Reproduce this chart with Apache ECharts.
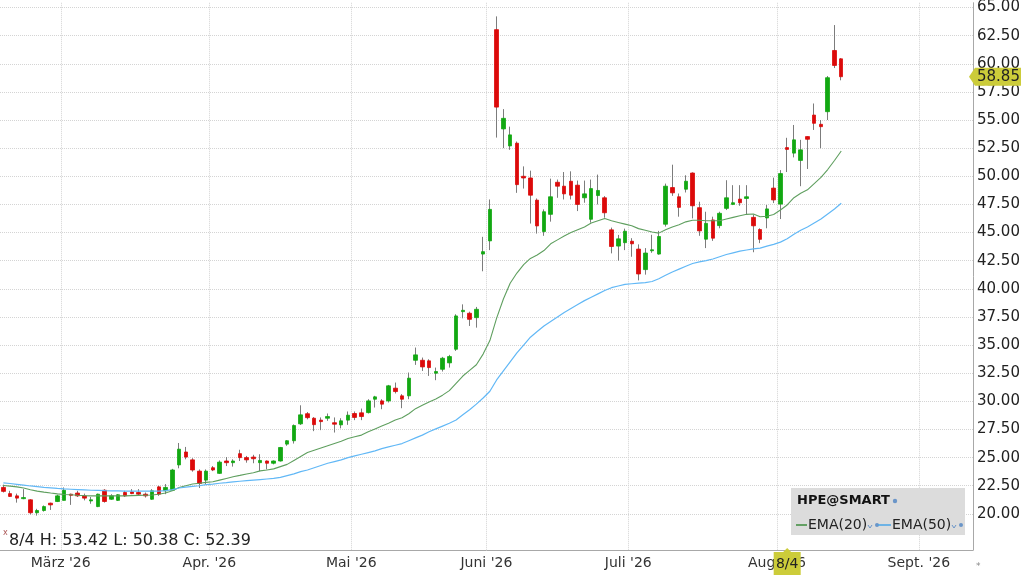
<!DOCTYPE html>
<html>
<head>
<meta charset="utf-8">
<title>HPE@SMART</title>
<script src="https://cdn.jsdelivr.net/npm/echarts@6/dist/echarts.min.js"></script>
<style>
  html, body { margin: 0; padding: 0; background: #fff; }
  #chart { width: 1024px; height: 575px; }
</style>
</head>
<body>
<div id="chart"></div>
<script>
/*========== 交易日 (Kategorien) ==========*/
const holidays = ['2026-02-16', '2026-04-03', '2026-05-25', '2026-06-19', '2026-07-03', '2026-09-07']
const monthNames = ['Jan.', 'Feb.', 'März', 'Apr.', 'Mai', 'Juni', 'Juli', 'Aug.', 'Sept.', 'Okt.', 'Nov.', 'Dez.']

function tradingDays(from, to) {
  const out = []
  let t = Date.parse(from + 'T00:00:00Z')
  const end = Date.parse(to + 'T00:00:00Z')
  while (t <= end) {
    const d = new Date(t)
    const s = d.toISOString().slice(0, 10)
    const wd = d.getUTCDay()
    if (wd !== 0 && wd !== 6 && holidays.indexOf(s) < 0) out.push(s)
    t += 86400000
  }
  return out
}
const dates = tradingDays('2026-02-17', '2026-09-11')

/*========== Kursdaten ==========*/
const opens = [22.35, 21.8, 21.6, 21.35, 21.25, 20.1, 20.3, 20.95, 21.1, 21.2,
  21.75, 21.85, 21.6, 21.15, 20.65, 22.1, 21.3, 21.2, 21.9, 21.95,
  21.9, 21.75, 21.3, 22.4, 22.05, 22.1, 24.35, 25.5, 24.8, 23.8,
  23.0, 24.1, 23.6, 24.7, 24.55, 25.35, 25.0, 25.05, 24.55, 24.7,
  24.5, 24.7, 26.2, 26.5, 28.0, 28.9, 28.5, 28.33, 28.5, 28.1,
  27.91, 28.33, 28.92, 28.98, 29.0, 30.19, 30.04, 30.04, 31.17, 30.49,
  30.49, 33.65, 33.65, 33.6, 32.5, 32.85, 33.42, 34.63, 37.97, 37.83,
  37.44, 43.09, 44.26, 63.03, 54.21, 52.7, 52.94, 50.0, 49.85, 47.88,
  45.09, 46.62, 49.47, 49.12, 49.56, 49.21, 48.09, 46.18, 48.29, 48.09,
  45.24, 43.8, 44.1, 44.23, 43.53, 41.71, 43.38, 43.09, 45.74, 49.0,
  48.18, 48.85, 50.29, 47.21, 44.41, 46.12, 45.62, 47.15, 47.5, 47.97,
  48.03, 46.35, 45.27, 46.3, 48.95, 47.53, 52.55, 52.06, 51.41, 53.53,
  55.44, 54.62, 55.74, 61.18, 60.44]
const highs = [22.6, 22.05, 21.8, 22.2, 21.3, 20.45, 20.75, 21.0, 21.7, 22.35,
  21.8, 22.05, 21.8, 21.5, 21.8, 22.2, 21.75, 21.75, 22.05, 22.2,
  22.2, 21.9, 22.2, 22.5, 22.65, 24.0, 26.3, 25.95, 24.95, 23.95,
  23.95, 24.25, 24.75, 25.05, 24.85, 25.7, 25.15, 25.25, 25.3, 24.75,
  24.75, 25.95, 26.55, 27.95, 29.65, 29.05, 28.6, 28.57, 28.92, 28.57,
  28.5, 29.1, 29.1, 29.36, 30.19, 30.49, 30.19, 31.46, 31.67, 30.64,
  32.56, 34.78, 33.89, 33.74, 33.0, 33.95, 34.13, 37.74, 38.62, 37.97,
  38.39, 44.62, 47.94, 64.21, 55.97, 54.41, 53.09, 50.88, 50.5, 48.03,
  47.06, 49.79, 49.71, 50.38, 50.44, 49.62, 49.62, 49.71, 50.15, 48.24,
  45.44, 44.79, 45.35, 44.5, 43.95, 43.62, 44.8, 45.15, 49.35, 51.03,
  48.47, 50.09, 50.35, 47.74, 46.85, 46.41, 46.85, 49.65, 49.21, 49.21,
  49.21, 46.6, 45.38, 47.45, 49.88, 50.55, 53.42, 54.56, 53.24, 53.55,
  56.47, 55.0, 58.91, 63.44, 60.5]
const lows = [21.9, 21.5, 21.0, 21.3, 19.95, 19.85, 20.2, 20.35, 21.05, 21.2,
  20.8, 21.5, 21.2, 20.9, 20.6, 21.0, 21.25, 21.15, 21.5, 21.75,
  21.6, 21.45, 21.25, 21.6, 21.75, 22.05, 24.05, 24.85, 23.75, 22.3,
  22.65, 23.8, 23.55, 24.25, 24.2, 24.7, 24.55, 24.5, 23.8, 23.95,
  24.4, 24.65, 26.05, 26.25, 27.9, 28.4, 27.35, 27.44, 28.27, 27.23,
  27.6, 27.91, 28.33, 28.33, 28.92, 29.45, 29.3, 29.9, 30.7, 29.39,
  30.19, 33.24, 32.7, 32.26, 31.88, 32.65, 33.0, 34.48, 37.38, 36.7,
  36.55, 41.56, 43.44, 53.44, 52.5, 52.35, 48.53, 48.91, 45.8, 44.91,
  44.71, 45.97, 48.09, 47.94, 47.94, 46.91, 47.65, 45.88, 47.5, 46.32,
  43.15, 42.5, 43.44, 42.85, 40.75, 41.26, 43.2, 43.03, 45.53, 48.26,
  46.41, 48.56, 46.26, 44.71, 43.62, 44.26, 45.38, 47.0, 47.44, 47.38,
  46.56, 43.25, 44.06, 45.38, 47.62, 46.2, 50.38, 51.68, 49.12, 50.65,
  54.12, 52.5, 55.0, 59.62, 58.53]
const closes = [22.0, 21.55, 21.4, 21.45, 20.1, 20.3, 20.65, 20.8, 21.6, 22.1,
  21.65, 21.6, 21.4, 21.25, 21.75, 21.1, 21.6, 21.7, 21.6, 21.8,
  21.75, 21.6, 22.05, 21.75, 22.35, 23.9, 25.75, 25.05, 23.9, 22.7,
  23.8, 23.9, 24.6, 24.55, 24.7, 25.0, 24.8, 24.9, 24.75, 24.5,
  24.7, 25.9, 26.5, 27.85, 28.8, 28.55, 27.93, 28.2, 28.65, 27.97,
  28.27, 28.77, 28.57, 28.65, 30.04, 30.4, 29.75, 31.38, 30.87, 30.19,
  32.06, 34.13, 33.06, 33.0, 32.65, 33.83, 33.98, 37.59, 38.09, 37.29,
  38.18, 43.3, 47.06, 56.15, 55.15, 53.68, 49.26, 49.85, 48.32, 45.59,
  46.85, 48.18, 49.12, 48.44, 48.32, 47.5, 48.44, 48.91, 48.74, 46.76,
  43.76, 44.44, 45.12, 44.0, 41.32, 43.18, 43.47, 44.65, 49.12, 48.53,
  47.24, 49.56, 47.38, 45.15, 45.82, 44.5, 46.71, 48.09, 47.65, 47.65,
  48.18, 45.6, 44.4, 47.1, 47.9, 50.24, 52.39, 53.24, 52.35, 53.29,
  54.71, 54.41, 58.76, 59.85, 58.85]

/*========== EMA-Linien ==========*/
const ema20 = [22.52, 22.47, 22.4, 22.3, 22.15, 22.02, 21.93, 21.85, 21.78, 21.72,
  21.7, 21.65, 21.62, 21.6, 21.6, 21.6, 21.6, 21.6, 21.6, 21.62,
  21.64, 21.65, 21.68, 21.75, 21.85, 22.05, 22.35, 22.5, 22.65, 22.72,
  22.8, 22.85, 23.0, 23.15, 23.3, 23.42, 23.55, 23.65, 23.82, 23.9,
  24.0, 24.2, 24.4, 24.75, 25.1, 25.45, 25.65, 25.85, 26.05, 26.25,
  26.45, 26.7, 26.85, 27.0, 27.3, 27.55, 27.8, 28.05, 28.35, 28.55,
  28.9, 29.35, 29.65, 29.95, 30.2, 30.55, 30.95, 31.6, 32.25, 32.75,
  33.25, 34.2, 35.4, 37.4, 39.1, 40.5, 41.4, 42.15, 42.7, 43.0,
  43.4, 44.0, 44.35, 44.7, 45.0, 45.25, 45.5, 45.85, 46.05, 46.25,
  46.05, 45.9, 45.75, 45.6, 45.35, 45.2, 45.05, 44.95, 45.25, 45.5,
  45.7, 45.95, 46.1, 46.1, 46.05, 46.05, 46.05, 46.2, 46.35, 46.5,
  46.62, 46.65, 46.4, 46.45, 46.6, 47.0, 47.45, 48.1, 48.5, 48.8,
  49.35, 49.9, 50.6, 51.4, 52.25]
const ema50 = [22.75, 22.7, 22.63, 22.56, 22.48, 22.42, 22.36, 22.31, 22.26, 22.22,
  22.19, 22.16, 22.13, 22.1, 22.08, 22.06, 22.05, 22.04, 22.03, 22.03,
  22.02, 22.02, 22.02, 22.03, 22.06, 22.15, 22.3, 22.38, 22.45, 22.5,
  22.6, 22.65, 22.72, 22.78, 22.85, 22.9, 22.95, 23.0, 23.05, 23.1,
  23.15, 23.25, 23.4, 23.55, 23.75, 23.9, 24.1, 24.3, 24.5, 24.65,
  24.8, 25.0, 25.15, 25.3, 25.45, 25.6, 25.8, 25.95, 26.1, 26.25,
  26.5, 26.75, 27.0, 27.3, 27.55, 27.8, 28.05, 28.35, 28.8, 29.25,
  29.75, 30.3, 30.9, 31.9, 32.7, 33.5, 34.3, 35.0, 35.7, 36.2,
  36.7, 37.1, 37.5, 37.9, 38.25, 38.6, 38.95, 39.25, 39.55, 39.85,
  40.1, 40.25, 40.4, 40.45, 40.5, 40.55, 40.65, 40.9, 41.2, 41.5,
  41.75, 42.0, 42.25, 42.4, 42.5, 42.65, 42.85, 43.05, 43.2, 43.35,
  43.45, 43.55, 43.62, 43.8, 43.95, 44.15, 44.45, 44.85, 45.2, 45.5,
  45.85, 46.2, 46.65, 47.1, 47.6]

/*========== Achsenbeschriftung ==========*/
const yTicks = [20, 22.5, 25, 27.5, 30, 32.5, 35, 37.5, 40, 42.5, 45, 47.5, 50, 52.5, 55, 57.5, 60, 62.5, 65]
const crossIdx = 116            // 8/4
const lastPrice = closes[closes.length - 1]

const FONT = '"DejaVu Sans", Verdana, sans-serif'
const UP = '#12a812'
const DOWN = '#dc0a0a'
const GRID = '#d4d4d4'

// Monatsanfang -> Index
const monthStart = {}
dates.forEach((d, i) => {
  if (i > 0 && d.slice(5, 7) !== dates[i - 1].slice(5, 7)) monthStart[i] = true
})
const isMonthStart = (idx) => !!monthStart[idx]

const wickData = opens.map((o, i) => [o, closes[i], lows[i], highs[i]])
const bodyData = opens.map((o, i) => [o, closes[i], Math.min(o, closes[i]), Math.max(o, closes[i])])

const option = {
  animation: false,
  backgroundColor: '#fff',
  grid: { left: 0, right: 51, top: 0, bottom: 25 },
  xAxis: {
    type: 'category',
    data: dates,
    boundaryGap: true,
    axisLine: { lineStyle: { color: '#a8a8a8' } },
    axisTick: { show: false },
    axisLabel: {
      interval: isMonthStart,
      margin: 6,
      padding: [0, 7, 0, 0],
      color: '#333',
      fontFamily: FONT,
      fontSize: 14,
      formatter: (v) => monthNames[+v.slice(5, 7) - 1] + " '" + v.slice(2, 4)
    },
    splitLine: {
      show: true,
      interval: isMonthStart,
      lineStyle: { color: GRID, type: 'dotted' }
    }
  },
  yAxis: {
    type: 'value',
    position: 'right',
    min: 16.79,
    max: 65.42,
    axisLine: { show: true, lineStyle: { color: '#a8a8a8' } },
    axisTick: { show: false, customValues: yTicks },
    axisLabel: {
      customValues: yTicks,
      margin: 4,
      color: '#222',
      fontFamily: FONT,
      fontSize: 15,
      formatter: (v) => v.toFixed(2)
    },
    splitLine: { show: true, lineStyle: { color: GRID, type: 'dotted' } }
  },
  series: [
    {
      name: 'wick',
      type: 'candlestick',
      data: wickData,
      barWidth: 1,
      itemStyle: { color: '#7c7c7c', color0: '#7c7c7c', borderColor: '#7c7c7c', borderColor0: '#7c7c7c', borderWidth: 1 },
      z: 2
    },
    {
      name: 'HPE@SMART',
      type: 'candlestick',
      data: bodyData,
      barWidth: 4,
      itemStyle: { color: UP, color0: DOWN, borderColor: UP, borderColor0: DOWN, borderWidth: 0.8 },
      z: 3
    },
    {
      name: 'EMA(20)',
      type: 'line',
      data: ema20,
      symbol: 'none',
      lineStyle: { color: '#5f9f5f', width: 1.1 },
      z: 4
    },
    {
      name: 'EMA(50)',
      type: 'line',
      data: ema50,
      symbol: 'none',
      lineStyle: { color: '#62b8f6', width: 1.2 },
      z: 4
    }
  ]
}

const chart = echarts.init(document.getElementById('chart'))
chart.setOption(option)

/*========== Preis-Marker, Fadenkreuz-Label, Legende ==========*/
const tagY = chart.convertToPixel({ yAxisIndex: 0 }, lastPrice)
const crossX = chart.convertToPixel({ xAxisIndex: 0 }, dates[crossIdx])
const TAG = '#cccc3a'
const LEG = '#6a95c8'

function txt(x, y, text, size, extra) {
  return {
    type: 'text', x: x, y: y, z: 100,
    style: Object.assign({ text: text, fill: '#222', fontSize: size, fontFamily: FONT, verticalAlign: 'middle' }, extra || {})
  }
}

chart.setOption({
  graphic: [
    // Preis rechts
    { type: 'polygon', z: 100, shape: { points: [[969, tagY], [975, tagY - 9], [1021, tagY - 9], [1021, tagY + 9], [975, tagY + 9]] }, style: { fill: TAG } },
    txt(977, tagY + 0.5, lastPrice.toFixed(2), 15),
    // Datum unten
    { type: 'polygon', z: 100, shape: { points: [[crossX - 13.5, 552], [crossX - 4, 552], [crossX, 548], [crossX + 4, 552], [crossX + 13.5, 552], [crossX + 13.5, 575], [crossX - 13.5, 575]] }, style: { fill: TAG } },
    txt(crossX, 564, '8/4', 14, { align: 'center' }),
    // Info-Zeile
    txt(3, 533, 'x', 8, { fill: '#a55' }),
    txt(9, 541, '8/4 H: ' + highs[crossIdx].toFixed(2) + ' L: ' + lows[crossIdx].toFixed(2) + ' C: ' + closes[crossIdx].toFixed(2), 16),
    txt(976, 567, '*', 9, { fill: '#888' }),
    // Legende
    { type: 'rect', z: 99, shape: { x: 791, y: 488, width: 174, height: 47 }, style: { fill: '#dcdcdc' } },
    txt(797, 501, 'HPE@SMART', 13, { fontWeight: 'bold', fill: '#111' }),
    { type: 'circle', z: 100, shape: { cx: 895, cy: 501, r: 2.2 }, style: { fill: LEG } },
    { type: 'line', z: 100, shape: { x1: 796, y1: 525, x2: 807, y2: 525 }, style: { stroke: '#3d8c3d', lineWidth: 1.5 } },
    txt(808, 525, 'EMA(20)', 14),
    { type: 'polyline', z: 100, shape: { points: [[868, 525], [870, 528], [872, 525]] }, style: { stroke: LEG, lineWidth: 1, fill: null } },
    { type: 'circle', z: 100, shape: { cx: 877, cy: 525, r: 2 }, style: { fill: LEG } },
    { type: 'line', z: 100, shape: { x1: 878, y1: 525, x2: 891, y2: 525 }, style: { stroke: '#4aa6e8', lineWidth: 1.5 } },
    txt(892, 525, 'EMA(50)', 14),
    { type: 'polyline', z: 100, shape: { points: [[952, 525], [954, 528], [956, 525]] }, style: { stroke: LEG, lineWidth: 1, fill: null } },
    { type: 'circle', z: 100, shape: { cx: 961, cy: 525, r: 2 }, style: { fill: LEG } }
  ]
})
</script>
</body>
</html>
